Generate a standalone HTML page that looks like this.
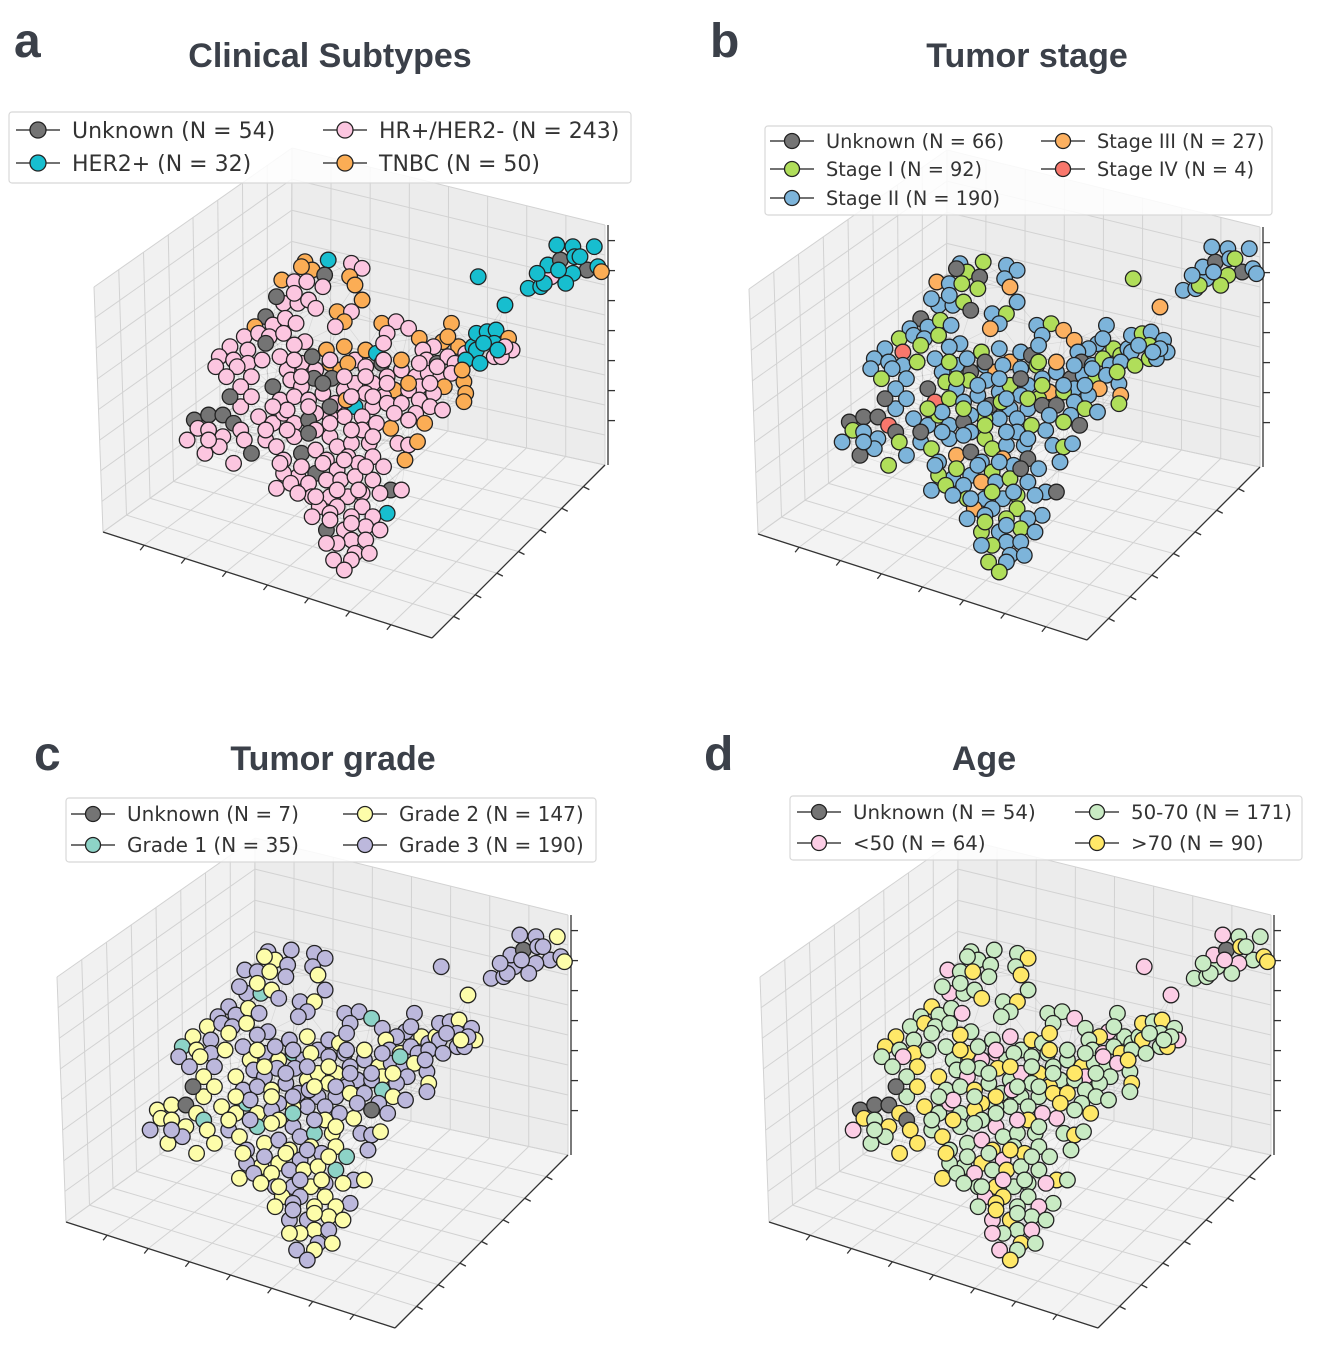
<!DOCTYPE html>
<html><head><meta charset="utf-8"><style>
html,body{margin:0;padding:0;background:#fff;}
svg{display:block;}
</style></head><body>
<svg id="fig" width="1318" height="1350" viewBox="0 0 1318 1350" xmlns="http://www.w3.org/2000/svg">
<rect x="0" y="0" width="1318" height="1350" fill="#fff"/>
</svg>
<script>
// ---- shared node layout (embedding units) ----
const nodeX = [].concat(
 [630,695,760,790,650,620,565,600,635,685,680,755,770,790,720,760,740,715,570,610,640,660,550,600,520,540,575,605,490,460,500,530,570,630,600],
 [420,470,520,390,430,470,510,380,440,410,480,450],
 [690,740,770,800,830,845,700,730,580,620,660,655,705,740,590,540,620,560,600,640,680,715,770,820,860,880,850,800,770,745,820,860,790,740,700,660],
 [845,885,920,860,850,950,1015,1040,1060,990,960,970,1000,1030,1050,1080,1100,1110,1140,1165,1160,1200,1210,1160,1110,1080,1120,1180,1190],
 [900,940,975,1010,1040,1020,1075,1080,1075,990,950,920,950,900,940,980,1015,965,920,870,890,920,945,910],
 [320,360,400,430,300,330,360,400,450,460,520,480,430,350,390,500,540,570,450],
 [600,640,660,700,600,550,570,620,660,690,720,760,790,830,810,750,780,820,850,720,660,610,570,550,590,640,690,730,770,820,870,900,840,790,750,700,650,610,670,720,790,860,820,760,700,650,690,740,800,760,800,720,770,810,710,760,740,840,690],
 [1115,1190,1255,1290,1320,1310,1345,1335,1380,1385,1440,1420,1380,1360,1450,1460,1300],
 [560,600,650,700,750,800,850,900,950,1000,620,680,740,800,860,920,980,580,640,700,760,820,880,520,580,640,700,760,820,560,620,680,740,800,660,720,780,700,760,480,540,420,360,1030,1070,1130,1170,1340,1400,1280]
);
const nodeY = [].concat(
 [395,390,400,415,420,410,450,455,455,435,470,440,465,510,545,545,575,590,520,520,510,535,500,490,560,585,565,580,590,620,610,620,610,635,645],
 [650,660,640,680,690,700,690,710,710,740,740,770],
 [660,650,690,660,670,700,700,720,720,700,720,745,745,780,750,770,770,810,800,810,790,820,760,760,740,780,800,790,830,810,830,820,860,860,860,850],
 [580,575,595,610,640,625,635,580,650,650,660,690,700,680,700,670,650,610,605,600,640,625,660,680,660,690,700,680,650],
 [720,740,730,740,730,770,755,790,815,790,770,780,810,820,850,830,840,880,870,895,940,945,935,990],
 [870,855,855,880,930,895,900,920,900,930,930,970,1000,970,950,860,880,850,830],
 [880,870,900,920,920,950,990,970,960,990,950,940,900,880,940,980,1000,980,1010,1020,1030,1040,1030,1075,1060,1060,1050,1050,1040,1050,1080,1080,1090,1090,1100,1100,1100,1090,1130,1130,1130,1150,1160,1160,1150,1160,1200,1200,1190,1230,1230,1240,1270,1270,1290,1290,1320,1200,1240],
 [440,525,475,470,440,405,390,345,350,380,350,420,430,460,410,425,460],
 [680,690,680,690,700,710,690,690,700,710,740,760,740,740,760,760,760,840,830,830,800,800,850,900,900,910,880,900,920,1000,1010,1000,990,1010,1100,1080,1080,1170,1180,800,830,800,930,620,720,640,660,420,380,430]
);
// ---- per-panel category codes ----
const catA = ["THPPTTTPPUPTTTTPTPPPPPUPUPPPTPPPPPP","PPUPPPPPPPPP","TTPTHUTTPPPUUPPUPPPPPPPPPTPPHTPPPPPP","TPPPPTTTTPPPUPPPHHHHHTPPHHHPP","PPPPPTTTTPPPPPPPPTPTPPTT","UUUUPPPPPPPUPPPPPPP","PUPPPPPUPPPPPPPPPPPPUPPPPPPPPPUPPPPPPPPPPHPPPPUPPPPPPPPPPPP","HHHHPHUHHHHUHHHTH","PPUPTPPTPPPUPPPTPPPUPPPPPUPPPPPPPPPPPPPPPUPTTHHHHH"].join("");
const catB = ["BGBBGUOBGUGBOBBGBOBBGUBBUBGBBGBBGBB","BRGBBBGBBGBB","GBOBUGBOBBUGBBGUBRGBBUGBBOGBBGBUBBGB","BGOBBOBBGBBUBGBGBBGBGBBGBBGBB","BUBGBOBOGBBGBUBGBUGBBGBB","UUURBGBBUGBBGUBBBGB","BUBGBGBOUBGBBGBOBUBGBBGBGBOBGBBUBGBBGBOBGBBGBBGBGBBGBBGBGBB","GOBBBBUBBBBUGGBBG","BGBUBBGOBBGBBUGBBBGBBGBUBBGBBBGBBUBGBGBBGUBBGBBBGB"].join("");
const catC = ["VVVVYYVVYVVVYVVYVVVTYVVYVVYVVYVVYVV","YVYTYVYVYVVY","VYVVYVTVYVYVVYVYVVVYVVYYVVVYVVVYVVYV","VVTVVVVVYVYVYVVVYVVYVVYVVVVVV","VYVVYVVYVVYVTVVYVVUYVVYV","YYUYVYYYTYVYYYVYYTY","YVYVTYVYVYVTYVYYVYTVYYVYVYVYYTVYYVYVVYYVYVYYVYVVYYVYVYVYVYY","VYVVVVUVVVYVVVVYV","VYVVYVVYVTYVVYVVYVYVYVVYVYTVYYVYVYYVYVYYYUVVVVYVVV"].join("");
const catD = ["LLLYLLKLYLLLYLLYLLKLLYLLYLLKLLYLLLY","YLLYLYLLKLYL","LKLYLLKLLYKLYLLYKLLYLLKYLLYLLKLYLLLY","LLKLYLKLLYLLKLYLLYLYLLKLYLLYL","LYLLKLLYLLKLLYLLLYLKLYLL","UUUYKYLYUYLYYLLYLKL","LYLKLYLLKYLLYKLLYLLKYLLYLKLYLLYLKLLYLLKYLLKLYLKYLLKLYLKLYLK","KKLLLKUKLYLLKLYYL","LYLKLLYLLKLLYLLYLKLYLLYLYLLKLYLLYLLKLYLYLULLYLLKLL"].join("");

const colorsA = {U:"#747474",H:"#17becf",P:"#fcc6e0",T:"#fbad55"};
const colorsB = {U:"#747474",G:"#b0de5a",B:"#7db4da",O:"#fcb060",R:"#f8776c"};
const colorsC = {U:"#747474",T:"#8dd3c7",Y:"#fdfdaa",V:"#bcb8dc"};
const colorsD = {U:"#747474",K:"#fccde5",L:"#c9ebc4",Y:"#ffe868"};

const legendA = ["Unknown (N = 54)","HER2+ (N = 32)","HR+/HER2- (N = 243)","TNBC (N = 50)"];
const legendB = ["Unknown (N = 66)","Stage I (N = 92)","Stage II (N = 190)","Stage III (N = 27)","Stage IV (N = 4)"];
const legendC = ["Unknown (N = 7)","Grade 1 (N = 35)","Grade 2 (N = 147)","Grade 3 (N = 190)"];
const legendD = ["Unknown (N = 54)","<50 (N = 64)","50-70 (N = 171)",">70 (N = 90)"];

const NS = "http://www.w3.org/2000/svg";
const svg = document.getElementById("fig");
function mk(tag, attrs, parent){
  const e = document.createElementNS(NS, tag);
  for (const k in attrs) e.setAttribute(k, attrs[k]);
  (parent||svg).appendChild(e);
  return e;
}
// axis functions: embedding units -> pixel
function sx(v, off){ return off + 80 + v/2.8; }
function sy(v, off){ return off + 130 + v/3; }

const C = {LT:[94,287], T:[292,148], BB:[291,397], LB:[103,532], RT:[605,225], RB:[605,465], F:[432,638]};
function lerp(a,b,t){ return [a[0]+(b[0]-a[0])*t, a[1]+(b[1]-a[1])*t]; }
function bil(p00,p10,p11,p01,u,v){ return lerp(lerp(p00,p10,u), lerp(p01,p11,u), v); }

function drawBox(g, ox, oy){
  const P = {}; for (const k in C) P[k] = [C[k][0]+ox, C[k][1]+oy];
  const pt = a => a.map(p=>p[0].toFixed(1)+","+p[1].toFixed(1)).join(" ");
  const lp = mk("polygon",{points:pt([P.LT,P.T,P.BB,P.LB]),fill:"#f1f1f1",stroke:"none"},g);
  
  
  const rp = mk("polygon",{points:pt([P.T,P.RT,P.RB,P.BB]),fill:"#ececec",stroke:"none"},g);
  
  
  const fp = mk("polygon",{points:pt([P.LB,P.BB,P.RB,P.F]),fill:"#f3f3f3",stroke:"none"},g);
  
  
  const N = 8;
  const grid = mk("g",{stroke:"#d2d2d2","stroke-width":"1",fill:"none"},g);
  
  
  function quadGrid(p00,p10,p11,p01){
    for (let i=0;i<=N;i++){
      const t=i/N;
      let a=bil(p00,p10,p11,p01,t,0), b=bil(p00,p10,p11,p01,t,1);
      mk("line",{x1:a[0],y1:a[1],x2:b[0],y2:b[1]},grid);
      a=bil(p00,p10,p11,p01,0,t); b=bil(p00,p10,p11,p01,1,t);
      mk("line",{x1:a[0],y1:a[1],x2:b[0],y2:b[1]},grid);
    }
  }
  quadGrid(P.LT,P.T,P.BB,P.LB);
  quadGrid(P.T,P.RT,P.RB,P.BB);
  quadGrid(P.LB,P.BB,P.RB,P.F);
  const ax = mk("g",{stroke:"#333","stroke-width":"1.3",fill:"none"},g);
  
  
  mk("line",{x1:P.LB[0],y1:P.LB[1],x2:P.F[0],y2:P.F[1]},ax);
  mk("line",{x1:P.F[0],y1:P.F[1],x2:P.RB[0],y2:P.RB[1]},ax);
  mk("line",{x1:P.RT[0]+3,y1:P.RT[1],x2:P.RB[0]+3,y2:P.RB[1]},ax);
  for (let i=1;i<N;i++){
    const t=i/N;
    let a=lerp(P.LB,P.F,t); mk("line",{x1:a[0],y1:a[1],x2:a[0]-4,y2:a[1]+5},ax);
    a=lerp(P.F,P.RB,t); mk("line",{x1:a[0],y1:a[1],x2:a[0]+6,y2:a[1]+3},ax);
    a=lerp(P.RT,P.RB,t-0.06); mk("line",{x1:a[0]+3,y1:a[1],x2:a[0]+10,y2:a[1]},ax);
  }
}

function drawNetwork(g, ox, oy, cats, colors, defCat){
  const n = Math.min(nodeX.length, nodeY.length);
  const eg = mk("g",{stroke:"#000","stroke-width":"0.7","stroke-opacity":"0.09"},g);
  
  
  for (let i=0;i<n;i++) for (let j=i+1;j<n;j++){
    const dx=nodeX[i]-nodeX[j], dy=nodeY[i]-nodeY[j];
    const d=Math.sqrt(dx*dx+dy*dy);
    if (d<105){
      mk("line",{x1:sx(nodeX[i],ox),y1:sy(nodeY[i],oy),x2:sx(nodeX[j],ox),y2:sy(nodeY[j],oy)},eg);
    }
  }
  const pg = mk("g",{stroke:"#222","stroke-width":"1.3"},g);
  
  
  for (let i=0;i<n;i++){
    const c = cats[i] || defCat;
    const circ = mk("circle",{cx:sx(nodeX[i],ox),cy:sy(nodeY[i],oy),r:7.8,fill:colors[c]||colors[defCat]},pg);
    
    
  }
}

function drawLegend(g, box, rows, cols, labels, cols_colors, fs, r){
  const lg = mk("g",{},g);
  
  
  mk("rect",{x:box[0],y:box[1],width:box[2]-box[0],height:box[3]-box[1],rx:3,fill:"#fff","fill-opacity":"0.85",stroke:"#d8d8d8","stroke-width":"1.2"},lg);
  labels.forEach((lab,i)=>{
    const col = Math.floor(i/rows.length), row = i%rows.length;
    const mx = cols[col], y = rows[row];
    const en = mk("g",{},lg);
    
    
    mk("line",{x1:mx-22,y1:y,x2:mx+22,y2:y,stroke:"#444","stroke-width":"1.5"},en);
    mk("circle",{cx:mx,cy:y,r:r,fill:cols_colors[i],stroke:"#222","stroke-width":"1.3"},en);
    const t = mk("text",{x:mx+34,y:y+fs*0.36,"font-family":"DejaVu Sans, Liberation Sans, sans-serif","font-size":fs,fill:"#333"},en);
    t.textContent = lab;
  });
}

function drawTitle(letter, lx, ly, title, tx, ty){
  const l = mk("text",{x:lx,y:ly,"font-family":"Liberation Sans, sans-serif","font-weight":"bold","font-size":"48",fill:"#3b4049"});
  l.textContent = letter;
  
  
  const t = mk("text",{x:tx,y:ty,"text-anchor":"middle","font-family":"Liberation Sans, sans-serif","font-weight":"bold","font-size":"34",fill:"#3b4049"});
  t.textContent = title;
  
  
}

const ga = mk("g",{});  
drawBox(ga,0,0); drawNetwork(ga,0,0,catA,colorsA,"P");
drawLegend(ga,[9,112,631,183],[130,163],[38,345],legendA,[colorsA.U,colorsA.H,colorsA.P,colorsA.T],22,8);
drawTitle("a",14,57,"Clinical Subtypes",330,67);

const gb = mk("g",{});  
drawBox(gb,655,2); drawNetwork(gb,655,2,catB,colorsB,"B");
drawLegend(gb,[765,126,1272,215],[141,169,198],[792,1063],legendB,[colorsB.U,colorsB.G,colorsB.B,colorsB.O,colorsB.R],19.3,7.5);
drawTitle("b",710,57,"Tumor stage",1027,67);

const gc = mk("g",{});  
drawBox(gc,-37,690); drawNetwork(gc,-37,690,catC,colorsC,"V");
drawLegend(gc,[66,798,596,862],[814,845],[93,365],legendC,[colorsC.U,colorsC.T,colorsC.Y,colorsC.V],20,7.5);
drawTitle("c",34,770,"Tumor grade",333,770);

const gd = mk("g",{});  
drawBox(gd,666,690); drawNetwork(gd,666,690,catD,colorsD,"L");
drawLegend(gd,[790,796,1302,860],[812,843],[819,1097],legendD,[colorsD.U,colorsD.K,colorsD.L,colorsD.Y],19.8,7.5);
drawTitle("d",704,770,"Age",984,770);
</script>
</body></html>
